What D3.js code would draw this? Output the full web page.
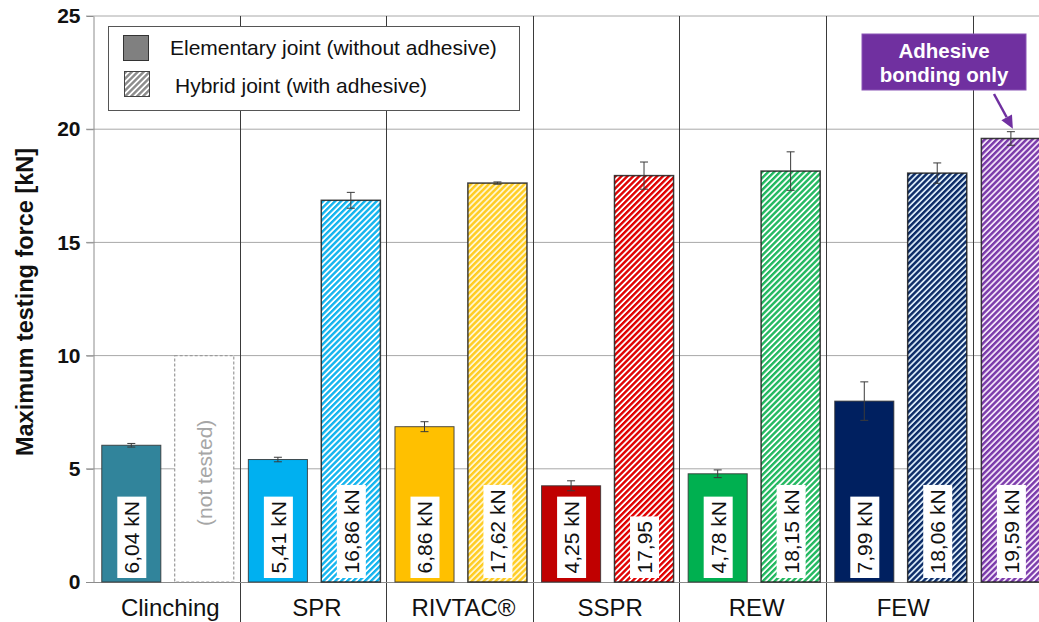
<!DOCTYPE html>
<html>
<head>
<meta charset="utf-8">
<script src="https://cdn.jsdelivr.net/npm/d3@7"></script>
<style>
  body { margin: 0; background: #fff; }
  svg { display: block; font-family: Arial, "Liberation Sans", sans-serif; }
</style>
</head>
<body>
<script>
// Joint categories (the last group holds the adhesive-only reference bar)
const categories = ["Clinching", "SPR", "RIVTAC®", "SSPR", "REW", "FEW", "Adhesive only"];
const categoryLabels = ["Clinching", "SPR", "RIVTAC®", "SSPR", "REW", "FEW", ""];

// Elementary joints (without adhesive), kN
const elementaryValues = [6.04, 5.41, 6.86, 4.25, 4.78, 7.99];
const elementaryErrors = [0.08, 0.10, 0.22, 0.22, 0.17, 0.85];

// Hybrid joints (with adhesive), kN; Clinching was not tested
const hybridValues = [null, 16.86, 17.62, 17.95, 18.15, 18.06];
const hybridErrors = [null, 0.35, 0.05, 0.60, 0.85, 0.45];
const hybridShowUnit = [true, true, true, false, true, true];

// Adhesive bonding only, kN
const adhesiveValue = 19.59;
const adhesiveError = 0.30;

// Height of the empty placeholder box for the untested hybrid clinch
const notTestedHeight = 10;

const yTicks = [0, 5, 10, 15, 20, 25];

const solidColors = ["#31849B", "#00B0F0", "#FFC000", "#C00000", "#00B050", "#002060", "#7030A0"];
const hatchColors = ["#31849B", "#13B4EE", "#FFCC22", "#E00000", "#22B860", "#0A2A66", "#7A3AAA"];
const hatchBack   = ["#ffffff", "#ffffff", "#FFF6D0", "#ffffff", "#ffffff", "#D8E8F6", "#F2E2F8"];

const W = 1039, H = 622;
const svg = d3.select("body").append("svg").attr("width", W).attr("height", H);
const defs = svg.append("defs");

function hatch(id, fg, bg) {
  const p = defs.append("pattern")
    .attr("id", id)
    .attr("patternUnits", "userSpaceOnUse")
    .attr("width", 4.2).attr("height", 4.2)
    .attr("patternTransform", "rotate(45)");
  p.append("rect").attr("width", 4.2).attr("height", 4.2).attr("fill", bg);
  p.append("rect").attr("width", 2.4).attr("height", 4.2).attr("fill", fg);
}
categories.forEach((c, i) => hatch("hatch" + i, hatchColors[i], hatchBack[i]));
hatch("hatchLegend", "#8a8a8a", "#ffffff");

const plotLeft = 93, plotBottom = 582, plotTop = 16;
const groupWidth = 146.6;

const y = d3.scaleLinear().domain([0, 25]).range([plotBottom, plotTop]);
const x0 = d3.scaleBand().domain(categories)
  .range([plotLeft, plotLeft + groupWidth * categories.length]).padding(0);
const x1 = d3.scaleBand().domain(["elementary", "hybrid"])
  .range([0, x0.bandwidth()]).paddingInner(0.19).paddingOuter(0.1).align(0.6);

// Horizontal gridlines
svg.append("g").selectAll("line")
  .data(yTicks.filter(t => t > 0))
  .join("line")
  .attr("x1", plotLeft - 7).attr("x2", W)
  .attr("y1", d => y(d)).attr("y2", d => y(d))
  .attr("stroke", "#a8a8a8").attr("stroke-width", 1);

// Group separators
svg.append("g").selectAll("line")
  .data(categories.slice(1))
  .join("line")
  .attr("x1", d => Math.round(x0(d)) + 0.5).attr("x2", d => Math.round(x0(d)) + 0.5)
  .attr("y1", plotTop).attr("y2", H)
  .attr("stroke", "#3a3a3a").attr("stroke-width", 1);

// Y axis
const yAxis = svg.append("g")
  .attr("transform", `translate(${plotLeft + 0.5},0)`)
  .call(d3.axisLeft(y).tickValues(yTicks).tickSize(7).tickSizeOuter(0).tickPadding(6));
yAxis.select(".domain").attr("stroke", "#8c8c8c");
yAxis.selectAll(".tick line").attr("stroke", "#8c8c8c");
yAxis.selectAll(".tick text")
  .attr("font-size", 21).attr("font-weight", "bold").attr("fill", "#111")
  .style("font-family", "Arial, 'Liberation Sans', sans-serif");

// X axis baseline
svg.append("line")
  .attr("x1", plotLeft - 7).attr("x2", W)
  .attr("y1", y(0) + 0.5).attr("y2", y(0) + 0.5)
  .attr("stroke", "#8c8c8c");

// Y axis title
svg.append("text")
  .attr("transform", `translate(33,${(y(0) + y(25)) / 2 + 3}) rotate(-90)`)
  .attr("text-anchor", "middle")
  .attr("font-size", 23.5).attr("font-weight", "bold").attr("fill", "#111")
  .text("Maximum testing force [kN]");

// Category labels
svg.append("g").selectAll("text")
  .data(categories)
  .join("text")
  .attr("x", d => x0(d) + x0.bandwidth() / 2 + 4)
  .attr("y", 616)
  .attr("text-anchor", "middle")
  .attr("font-size", 24).attr("fill", "#111")
  .text((d, i) => categoryLabels[i]);

// Bar records built from the arrays above
const bars = [];
elementaryValues.forEach((v, i) => bars.push({
  cat: categories[i], slot: "elementary", value: v, err: elementaryErrors[i],
  fill: solidColors[i], label: fmt(v) + " kN"
}));
hybridValues.forEach((v, i) => {
  if (v == null) return;
  bars.push({
    cat: categories[i], slot: "hybrid", value: v, err: hybridErrors[i],
    fill: `url(#hatch${i})`, label: fmt(v) + (hybridShowUnit[i] ? " kN" : "")
  });
});
bars.push({
  cat: categories[6], slot: "elementary", value: adhesiveValue, err: adhesiveError,
  fill: "url(#hatch6)", label: fmt(adhesiveValue) + " kN"
});

function fmt(v) { return d3.format(".2f")(v).replace(".", ","); }
const bx = d => x0(d.cat) + x1(d.slot);
const bw = x1.bandwidth();

// Placeholder for the untested hybrid clinch joint
const ntX = x0(categories[0]) + x1("hybrid");
svg.append("rect")
  .attr("x", ntX).attr("y", y(notTestedHeight))
  .attr("width", bw).attr("height", y(0) - y(notTestedHeight))
  .attr("fill", "#fff").attr("stroke", "#9a9a9a")
  .attr("stroke-width", 1.2).attr("stroke-dasharray", "3,2");
svg.append("text")
  .attr("transform", `translate(${ntX + bw / 2},${(y(0) + y(notTestedHeight)) / 2 + 4}) rotate(-90)`)
  .attr("text-anchor", "middle").attr("dominant-baseline", "central")
  .attr("font-size", 21).attr("fill", "#a6a6a6")
  .text("(not tested)");

// Bars
svg.append("g").selectAll("rect")
  .data(bars)
  .join("rect")
  .attr("x", bx).attr("y", d => y(d.value))
  .attr("width", bw).attr("height", d => y(0) - y(d.value))
  .attr("fill", d => d.fill)
  .attr("stroke", d => d.slot === "hybrid" || d.cat === categories[6] ? "#1c1c1c" : "#333")
  .attr("stroke-opacity", 0.85)
  .attr("stroke-width", d => d.slot === "hybrid" || d.cat === categories[6] ? 1.5 : 1);

// Error bars
const eb = svg.append("g").attr("stroke", "#3a3a3a").attr("stroke-width", 1).attr("fill", "none");
bars.forEach(d => {
  const cx = bx(d) + bw / 2;
  const y1 = y(d.value + d.err), y2 = y(d.value - d.err);
  eb.append("line").attr("x1", cx).attr("x2", cx).attr("y1", y1).attr("y2", y2);
  eb.append("line").attr("x1", cx - 4).attr("x2", cx + 4).attr("y1", y1).attr("y2", y1);
  eb.append("line").attr("x1", cx - 4).attr("x2", cx + 4).attr("y1", y2).attr("y2", y2);
});

// Value labels in white boxes
const lab = svg.append("g");
bars.forEach(d => {
  const cx = bx(d) + bw / 2;
  const bottom = y(0) - 4;
  const g = lab.append("g");
  const box = g.append("rect").attr("fill", "#fff");
  const t = g.append("text")
    .attr("transform", `translate(${cx + 0.5},${bottom - 4.5}) rotate(-90)`)
    .attr("text-anchor", "start").attr("dominant-baseline", "central")
    .attr("font-size", 21).attr("fill", "#111")
    .text(d.label);
  const len = t.node().getComputedTextLength();
  box.attr("x", cx - 14).attr("width", 29)
    .attr("y", bottom - len - 9).attr("height", len + 9);
});

// Legend
const lg = svg.append("g");
lg.append("rect").attr("x", 108.5).attr("y", 26.5).attr("width", 411).attr("height", 84)
  .attr("fill", "#fff").attr("stroke", "#555");
lg.append("rect").attr("x", 123.5).attr("y", 35.5).attr("width", 25).attr("height", 25)
  .attr("fill", "#808080").attr("stroke", "#333");
lg.append("rect").attr("x", 124.5).attr("y", 71.5).attr("width", 25).attr("height", 25)
  .attr("fill", "url(#hatchLegend)").attr("stroke", "#444");
lg.append("text").attr("x", 170).attr("y", 55).attr("font-size", 21).attr("fill", "#111")
  .text("Elementary joint (without adhesive)");
lg.append("text").attr("x", 175).attr("y", 93).attr("font-size", 21).attr("fill", "#111")
  .text("Hybrid joint (with adhesive)");

// Callout for the adhesive-only bar
const adhX = x0(categories[6]) + x1("elementary") + bw / 2;
const call = svg.append("g");
call.append("rect").attr("x", 862).attr("y", 34).attr("width", 164).attr("height", 56)
  .attr("fill", "#7030A0").attr("stroke", "#8a55b5").attr("stroke-width", 1);
call.append("text").attr("x", 944).attr("y", 58).attr("text-anchor", "middle")
  .attr("font-size", 20.5).attr("font-weight", "bold").attr("fill", "#fff").text("Adhesive");
call.append("text").attr("x", 944).attr("y", 82).attr("text-anchor", "middle")
  .attr("font-size", 20.5).attr("font-weight", "bold").attr("fill", "#fff").text("bonding only");

const tipX = adhX + 2, tipY = y(adhesiveValue + adhesiveError) - 3;
const startX = 994, startY = 94;
const ang = Math.atan2(tipY - startY, tipX - startX);
const headLen = 13, headW = 6;
const baseX = tipX - headLen * Math.cos(ang), baseY = tipY - headLen * Math.sin(ang);
call.append("line").attr("x1", startX).attr("y1", startY).attr("x2", baseX).attr("y2", baseY)
  .attr("stroke", "#7030A0").attr("stroke-width", 2.5);
call.append("path")
  .attr("d", `M${tipX},${tipY}L${baseX + headW * Math.sin(ang)},${baseY - headW * Math.cos(ang)}L${baseX - headW * Math.sin(ang)},${baseY + headW * Math.cos(ang)}Z`)
  .attr("fill", "#7030A0");
</script>
</body>
</html>
